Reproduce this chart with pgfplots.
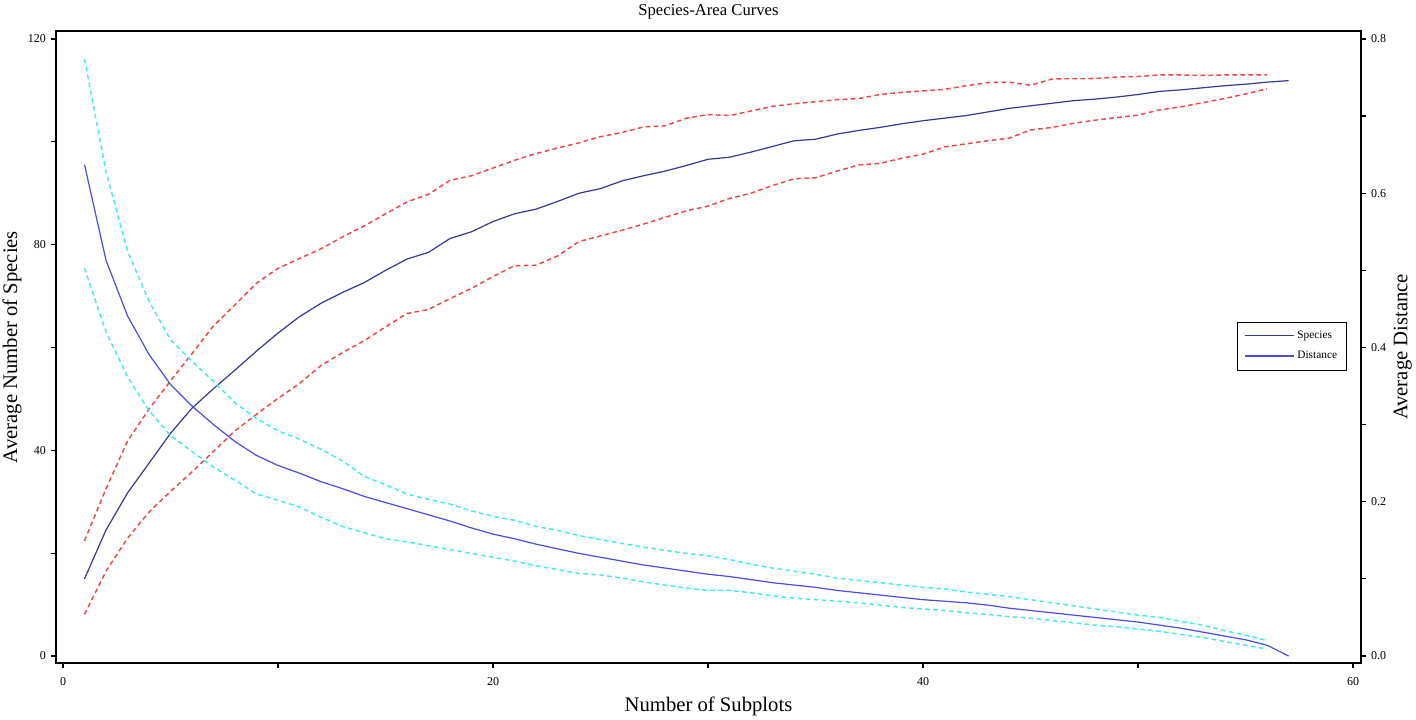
\documentclass[border=0pt]{standalone}
\usepackage{fontspec}
\setmainfont{Liberation Serif}
\usepackage{pgfplots}
\usepackage{pgfplotstable}
\pgfplotsset{compat=1.18}

\definecolor{spc}{RGB}{55,55,150}
\definecolor{dst}{RGB}{75,75,230}
\definecolor{rd}{RGB}{240,70,70}
\definecolor{cy}{RGB}{70,235,235}

\pgfplotstableread{
x smean supper slower dmean dupper dlower
1 15.0 22.4 8.1 0.637 0.774 0.503
2 24.5 32.5 16.5 0.513 0.628 0.420
3 31.7 41.8 22.9 0.441 0.525 0.362
4 37.5 48.0 28.0 0.391 0.460 0.318
5 43.3 53.5 32.0 0.352 0.410 0.286
6 48.2 58.8 35.8 0.324 0.382 0.265
7 52.0 64.2 39.8 0.300 0.356 0.245
8 55.6 68.3 43.8 0.278 0.328 0.228
9 59.3 72.5 47.0 0.260 0.308 0.210
10 62.8 75.4 50.1 0.247 0.292 0.202
11 66.0 77.3 53.0 0.237 0.281 0.193
12 68.6 79.2 56.5 0.226 0.268 0.180
13 70.7 81.5 59.0 0.217 0.253 0.168
14 72.6 83.6 61.3 0.207 0.233 0.160
15 75.0 86.0 64.0 0.199 0.222 0.152
16 77.2 88.3 66.6 0.191 0.210 0.148
17 78.5 89.8 67.4 0.183 0.203 0.143
18 81.2 92.5 69.5 0.175 0.197 0.138
19 82.5 93.4 71.5 0.166 0.188 0.133
20 84.5 94.9 73.8 0.158 0.181 0.128
21 86.0 96.4 75.9 0.152 0.176 0.123
22 86.9 97.7 76.0 0.145 0.168 0.117
23 88.4 98.8 77.8 0.139 0.163 0.112
24 90.0 99.8 80.6 0.133 0.156 0.107
25 90.9 101.0 81.7 0.128 0.151 0.105
26 92.4 101.8 82.8 0.123 0.146 0.101
27 93.4 102.9 84.0 0.118 0.141 0.096
28 94.3 103.1 85.3 0.114 0.137 0.092
29 95.4 104.6 86.6 0.110 0.133 0.088
30 96.6 105.3 87.5 0.106 0.130 0.085
31 97.0 105.1 89.0 0.103 0.125 0.085
32 98.0 106.0 90.0 0.099 0.119 0.082
33 99.1 106.9 91.5 0.095 0.114 0.078
34 100.2 107.4 92.8 0.092 0.110 0.075
35 100.5 107.8 93.0 0.089 0.106 0.073
36 101.5 108.2 94.3 0.085 0.101 0.071
37 102.2 108.4 95.5 0.082 0.098 0.069
38 102.8 109.2 95.8 0.079 0.095 0.066
39 103.5 109.6 96.8 0.076 0.092 0.063
40 104.1 109.9 97.6 0.073 0.089 0.061
41 104.6 110.2 99.0 0.071 0.087 0.059
42 105.1 110.9 99.6 0.069 0.083 0.056
43 105.8 111.5 100.2 0.066 0.080 0.054
44 106.5 111.6 100.7 0.062 0.077 0.051
45 107.0 111.0 102.3 0.059 0.073 0.049
46 107.5 112.2 102.8 0.056 0.069 0.046
47 108.0 112.3 103.6 0.053 0.065 0.043
48 108.3 112.3 104.2 0.050 0.061 0.040
49 108.7 112.6 104.7 0.047 0.057 0.038
50 109.2 112.7 105.2 0.044 0.053 0.035
51 109.8 113.0 106.2 0.040 0.050 0.032
52 110.1 113.0 106.8 0.036 0.045 0.028
53 110.5 112.9 107.6 0.031 0.040 0.024
54 110.9 113.0 108.4 0.026 0.033 0.019
55 111.2 113.0 109.3 0.021 0.027 0.014
56 111.6 113.0 110.3 0.014 0.020 0.009
57 111.9 nan nan 0.000 nan nan
}\datatable

\pgfplotsset{
  common/.style={
    at={(42pt,42.75pt)}, anchor=south west,
    scale only axis, width=978.75pt, height=474pt,
    xmin=-0.326, xmax=60.37,
    axis line style={line width=1.1pt},
    tick align=outside,
    major tick length=4pt,
    tick style={line width=0.9pt, black},
    ticklabel style={font=\fontsize{9}{10}\selectfont},
    label style={font=\fontsize{15.5}{17}\selectfont},
    clip=false,
  },
  cidash/.style={line width=1.1pt, dash pattern=on 3.5pt off 2.5pt},
}

\begin{document}
\begin{tikzpicture}[x=1pt,y=1pt]
\path[use as bounding box] (0,0) rectangle (1062,540);
\begin{axis}[
  common,
  ymin=-1.36, ymax=121.55,
  xtick pos=lower, ytick pos=left,
  xtick={0,10,20,30,40,50,60}, xticklabels={0,{},20,{},40,{},60},
  ytick={0,20,40,60,80,100,120}, yticklabels={0,{},40,{},80,{},120},
  xticklabel style={yshift=-3pt},
  xlabel={Number of Subplots},
  ylabel={Average Number of Species},
  xlabel style={at={(axis description cs:0.5,-0.068)}, anchor=center},
  ylabel style={at={(axis description cs:-0.0337,0.5)}, anchor=center},
]
\node[font=\fontsize{12.5}{14}\selectfont, anchor=center] at (axis description cs:0.5,1.030) {Species-Area Curves};
\addplot[rd, cidash] table[x=x, y=supper] {\datatable};
\addplot[rd, cidash] table[x=x, y=slower] {\datatable};
\addplot[spc, line width=0.9pt] table[x=x, y=smean] {\datatable};
\end{axis}
\begin{axis}[
  common,
  ymin=-0.00907, ymax=0.8103,
  hide x axis,
  axis y line*=right,
  ytick={0,0.1,0.2,0.3,0.4,0.5,0.6,0.7,0.8},
  yticklabels={0.0,{},0.2,{},0.4,{},0.6,{},0.8},
  ylabel={Average Distance},
  ylabel style={at={(axis description cs:1.032,0.5)}, anchor=center},
  legend style={at={(axis description cs:0.989,0.5016)}, anchor=east,
    draw=black, font=\fontsize{8.5}{10}\selectfont,
    row sep=4pt, inner xsep=5pt, inner ysep=5pt},
  legend cell align=left,
  legend image code/.code={\draw[line width=0.9pt,#1] (0pt,0pt) -- (37pt,0pt);},
]
\addlegendimage{spc, line width=0.9pt}
\addlegendentry{Species}
\addplot[cy, cidash, forget plot] table[x=x, y=dupper] {\datatable};
\addplot[cy, cidash, forget plot] table[x=x, y=dlower] {\datatable};
\addplot[dst, line width=0.9pt] table[x=x, y=dmean] {\datatable};
\addlegendentry{Distance}
\end{axis}
\end{tikzpicture}
\end{document}
